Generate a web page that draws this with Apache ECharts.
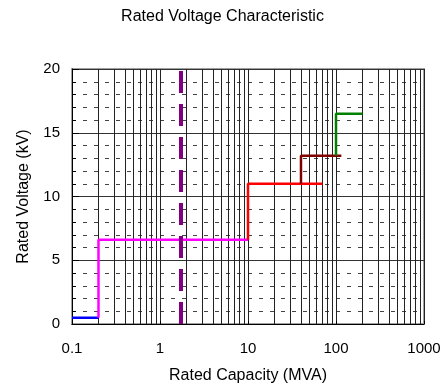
<!DOCTYPE html>
<html>
<head>
<meta charset="utf-8">
<script src="https://cdn.jsdelivr.net/npm/echarts@6/dist/echarts.min.js"></script>
<style>
html,body{margin:0;padding:0;background:#fff;}
#c{width:445px;height:389px;}
</style>
</head>
<body>
<div id="c"></div>
<script>
// ---- data ----
const xTicks = [0.1, 1, 10, 100, 1000];
const yTicks = [0, 5, 10, 15, 20];
const stepBlue    = [[0.1, 0.5], [0.2, 0.5]];
const stepMagenta = [[0.2, 0.5], [0.2, 6.6], [10, 6.6]];
const stepRed     = [[10, 6.6], [10, 11], [70, 11]];
const stepDarkRed = [[40, 11], [40, 13.2], [115, 13.2]];
const stepGreen   = [[100, 13.2], [100, 16.5], [200, 16.5]];
const refCapacity = [[1.732, 0], [1.732, 20]];

// minor vertical grid lines (2..9 within each decade)
const minorGridX = [];
for (let d = 0; d < 4; d++) {
  const base = xTicks[d];
  for (let m = 2; m <= 9; m++) minorGridX.push(+(base * m).toPrecision(3));
}

const font = 'Liberation Sans, Arial, sans-serif';
const chart = echarts.init(document.getElementById('c'), null, {renderer: 'canvas'});
function lineSeries(data, color, width) {
  return {type: 'line', data: data, symbol: 'none', zlevel: 1, z: 10,
    lineStyle: {color: color, width: width}, animation: false};
}
chart.setOption({
  animation: false,
  title: {text: 'Rated Voltage Characteristic', left: 'center', top: 4,
    textStyle: {fontFamily: font, fontSize: 16, fontWeight: 'normal', color: '#000'}},
  grid: {left: 72, right: 21, top: 69, bottom: 65, show: true,
    borderColor: '#a0a0a0', borderWidth: 2, backgroundColor: 'transparent'},
  xAxis: {
    type: 'log', logBase: 10, min: 0.1, max: 1000,
    name: 'Rated Capacity (MVA)', nameLocation: 'middle', nameGap: 44,
    nameTextStyle: {fontFamily: font, fontSize: 16, color: '#000'},
    axisLine: {show: true, lineStyle: {color: '#000', width: 1}},
    axisTick: {show: true, inside: true, length: 3, lineStyle: {color: '#000'}},
    axisLabel: {fontFamily: font, fontSize: 15, color: '#000', margin: 17,
      formatter: v => String(Number(v.toPrecision(3)))},
    splitLine: {show: true, lineStyle: {color: '#222', width: 1}}
  },
  yAxis: {
    type: 'value', min: 0, max: 20, interval: 5,
    name: 'Rated Voltage (kV)', nameLocation: 'middle', nameGap: 40,
    nameTextStyle: {fontFamily: font, fontSize: 16, color: '#000'},
    axisLine: {show: true, lineStyle: {color: '#000', width: 1}},
    axisTick: {show: true, inside: true, length: 7, lineStyle: {color: '#000'}},
    minorTick: {show: true, splitNumber: 5, length: 4, lineStyle: {color: '#000'}},
    axisLabel: {fontFamily: font, fontSize: 15, color: '#000', margin: 12},
    splitLine: {show: true, lineStyle: {color: '#333', width: 1}},
    minorSplitLine: {show: true, lineStyle: {color: '#444', width: 1, type: [4, 7]}}
  },
  series: [
    {type: 'line', data: [], symbol: 'none', silent: true, z: 1,
      markLine: {silent: true, symbol: 'none', label: {show: false}, animation: false,
        lineStyle: {type: 'solid', color: '#222', width: 1},
        emphasis: {disabled: true},
        data: minorGridX.map(v => ({xAxis: v}))}},
    lineSeries(stepBlue, '#0000ff', 2.5),
    lineSeries(stepMagenta, '#ff00ff', 2.5),
    lineSeries(stepRed, '#ff0000', 2.5),
    lineSeries(stepDarkRed, '#800000', 2.5),
    lineSeries(stepGreen, '#008000', 2.5),
    {type: 'line', data: refCapacity, symbol: 'none', zlevel: 1, z: 12, animation: false,
      lineStyle: {color: '#800080', width: 4, type: [22, 11]}}
  ]
});
</script>
</body>
</html>
